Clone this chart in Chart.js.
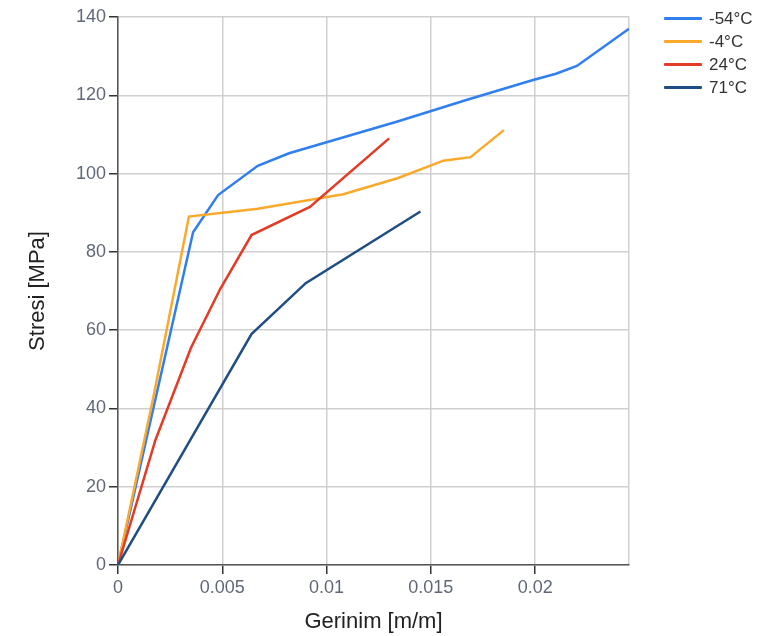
<!DOCTYPE html>
<html>
<head>
<meta charset="utf-8">
<script src="https://cdn.jsdelivr.net/npm/chart.js@4.4.0/dist/chart.umd.min.js"></script>
<style>
  body { margin: 0; background: #fff; }
  #wrap { position: relative; width: 759px; height: 636px; }
  #legend { position: absolute; left: 664px; top: 7px; font: 17px "Liberation Sans", Arial, sans-serif; color: #333; }
  #legend .row { height: 23px; display: flex; align-items: center; }
  #legend .swatch { width: 38px; height: 3px; margin-right: 7px; border-radius: 1px; }
</style>
</head>
<body>
<div id="wrap">
  <canvas id="stressChart" width="759" height="636"></canvas>
  <div id="legend"></div>
</div>
<script>
// Gerilme-gerinim verisi
const seriesLabels = ['-54°C', '-4°C', '24°C', '71°C'];
const seriesColors = ['#2f7ff0', '#fba92b', '#e33b26', '#1f4e85'];

const strainM54 = [0, 0.0036, 0.0048, 0.0067, 0.0082, 0.01, 0.0134, 0.0167, 0.0199, 0.021, 0.022, 0.0245];
const stressM54 = [0, 85, 94.5, 102, 105.2, 108, 113.3, 118.8, 123.9, 125.5, 127.5, 137];

const strainM4 = [0, 0.0017, 0.0034, 0.0067, 0.0108, 0.0134, 0.0156, 0.0169, 0.0185];
const stressM4 = [0, 43, 89, 91, 94.7, 98.8, 103.3, 104.2, 111.1];

const strain24 = [0, 0.0018, 0.0035, 0.0049, 0.0064, 0.0092, 0.013];
const stress24 = [0, 32, 55.5, 70.5, 84.3, 91.5, 109];

const strain71 = [0, 0.0064, 0.009, 0.0145];
const stress71 = [0, 59, 72, 90.3];

const xTicks = [0, 0.005, 0.01, 0.015, 0.02];
const xMax = 0.0245;
const yMax = 140;

function toPoints(xs, ys) {
    return xs.map((x, i) => ({ x: x, y: ys[i] }));
}

const allSeries = [
    toPoints(strainM54, stressM54),
    toPoints(strainM4, stressM4),
    toPoints(strain24, stress24),
    toPoints(strain71, stress71)
];
const drawOrder = [3, 2, 1, 0];  // red on top of orange, orange on top of blue

const font = '"Liberation Sans", Arial, sans-serif';

const ctx = document.getElementById('stressChart').getContext('2d');
const stressChart = new Chart(ctx, {
    type: 'scatter',
    data: {
        datasets: allSeries.map((pts, i) => ({
            label: seriesLabels[i],
            data: pts,
            showLine: true,
            borderColor: seriesColors[i],
            backgroundColor: seriesColors[i],
            borderWidth: 2.5,
            pointRadius: 0,
            tension: 0,
            order: drawOrder[i]
        }))
    },
    options: {
        responsive: false,
        animation: false,
        layout: {
            padding: { left: 0, top: 17, right: 130, bottom: 0 }
        },
        plugins: {
            legend: { display: false },
            tooltip: { enabled: false }
        },
        scales: {
            x: {
                type: 'linear',
                min: 0,
                max: xMax,
                afterFit: scale => { scale.height = 71; },
                afterBuildTicks: scale => {
                    scale.ticks = xTicks.concat([xMax]).map(v => ({ value: v }));
                },
                ticks: {
                    padding: 3,
                    color: '#606878',
                    font: { family: font, size: 18 },
                    maxRotation: 0,
                    callback: v => (v > xTicks[xTicks.length - 1] + 0.001 ? '' : String(+v.toFixed(3)))
                },
                grid: {
                    color: '#cfcfcf',
                    lineWidth: 1.5,
                    tickLength: 9,
                    tickColor: c => (c.tick && c.tick.value > 0.0241 ? 'rgba(0,0,0,0)' : '#333')
                },
                border: { color: '#555', width: 1.5 },
                title: {
                    display: true,
                    text: 'Gerinim [m/m]',
                    color: '#222',
                    font: { family: font, size: 22 },
                    padding: { top: 0, bottom: 1 }
                }
            },
            y: {
                min: 0,
                max: yMax,
                afterFit: scale => { scale.width = 118; },
                ticks: {
                    stepSize: 20,
                    padding: 3,
                    color: '#606878',
                    font: { family: font, size: 18 }
                },
                grid: {
                    color: '#cfcfcf',
                    lineWidth: 1.5,
                    tickLength: 9,
                    tickColor: '#333'
                },
                border: { color: '#555', width: 1.5 },
                title: {
                    display: true,
                    text: 'Stresi [MPa]',
                    color: '#222',
                    font: { family: font, size: 22 },
                    padding: { top: 25, bottom: 0 }
                }
            }
        }
    }
});

// HTML legend built from the same series
const legendEl = document.getElementById('legend');
seriesLabels.forEach((label, i) => {
    const row = document.createElement('div');
    row.className = 'row';
    const sw = document.createElement('span');
    sw.className = 'swatch';
    sw.style.background = seriesColors[i];
    const txt = document.createElement('span');
    txt.textContent = label;
    row.appendChild(sw);
    row.appendChild(txt);
    legendEl.appendChild(row);
});
</script>
</body>
</html>
